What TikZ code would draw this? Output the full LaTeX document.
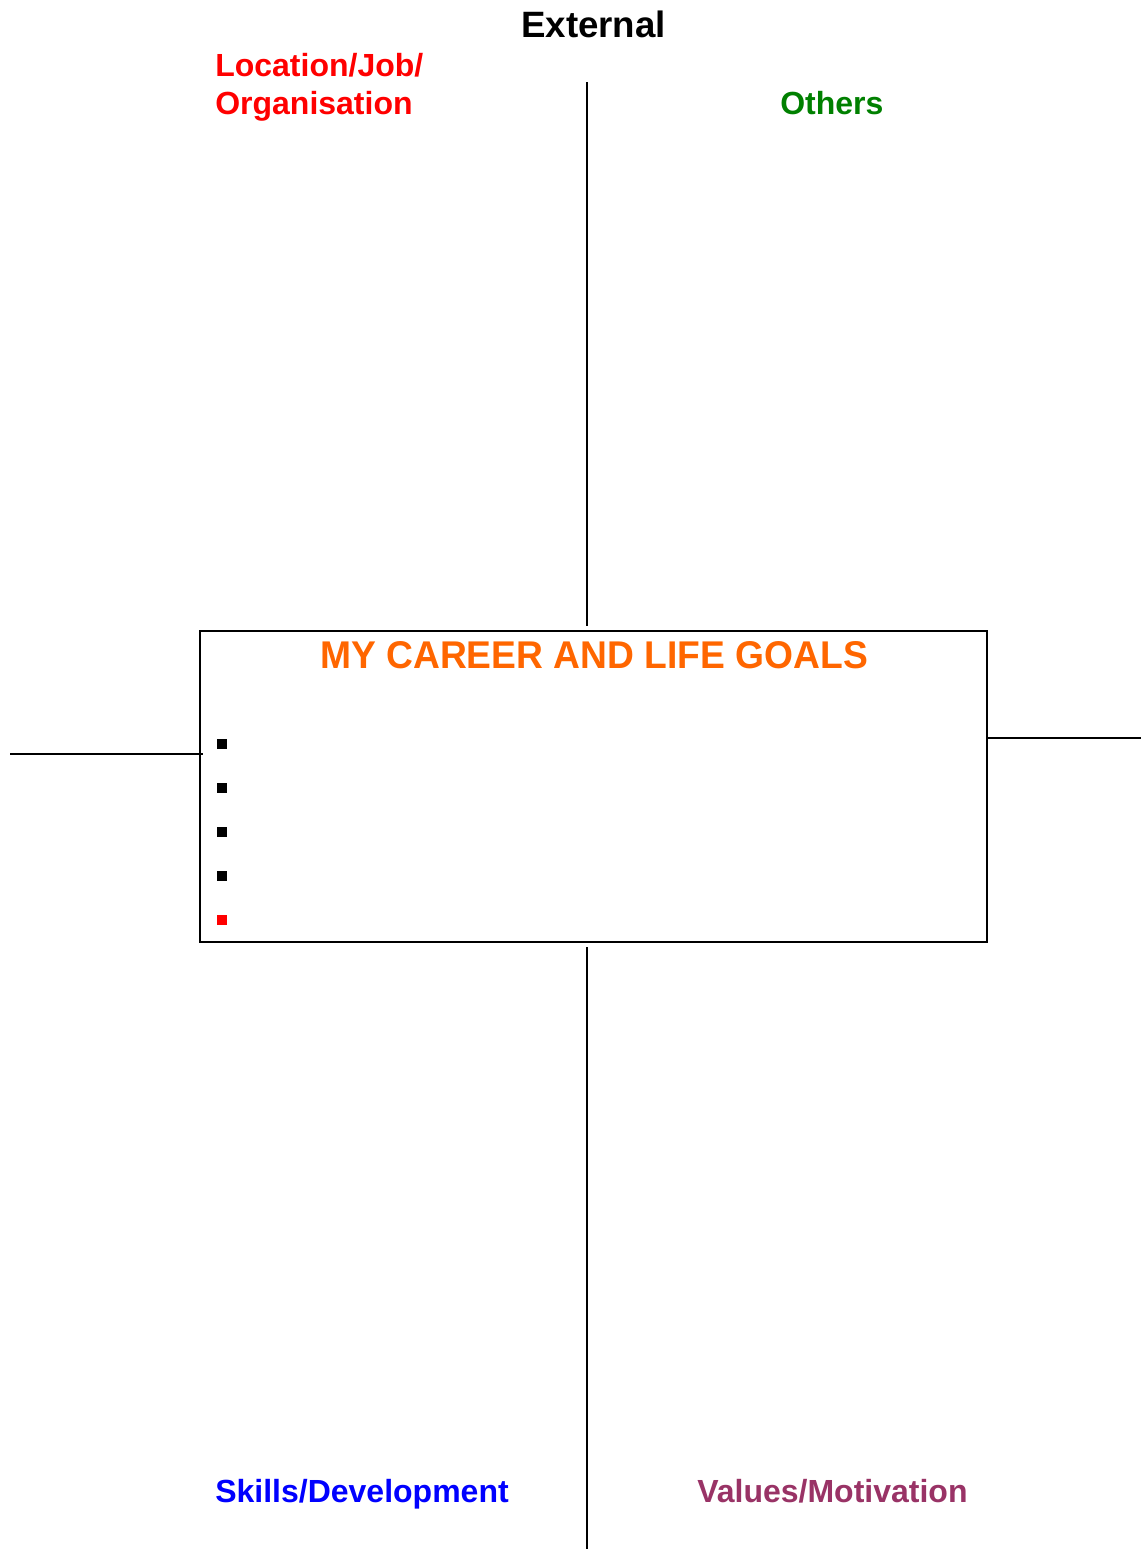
\documentclass[tikz,border=0pt]{standalone}
\usepackage{fontspec}
\setmainfont{Liberation Sans}
\definecolor{lblred}{HTML}{FF0000}
\definecolor{lblgreen}{HTML}{008000}
\definecolor{lblblue}{HTML}{0000FF}
\definecolor{lblplum}{HTML}{993366}
\definecolor{lblorange}{HTML}{FF6600}
\tikzset{
  lbl/.style={inner sep=0pt, anchor=base west, font=\fontsize{24}{28}\selectfont\bfseries, align=left},
  rule/.style={line width=1.4pt, draw=black},
  bul/.style={fill=black, minimum size=7.5pt, inner sep=0pt, anchor=center, draw=none}
}
\begin{document}
\begin{tikzpicture}[x=0.75pt,y=-0.75pt]
\useasboundingbox (0,0) rectangle (1141,1549);
% texts
\node[lbl, font=\fontsize{27.5}{32}\selectfont\bfseries] (ext) at (521,37) {External};
\node[lbl, text=lblred] (loc1) at (215,76) {Location/Job/};
\node[lbl, text=lblred] (loc2) at (215,114) {Organisation};
\node[lbl, text=lblgreen] (oth) at (780,114) {Others};
\node[lbl, text=lblblue] (skl) at (215,1502) {Skills/Development};
\node[lbl, text=lblplum] (val) at (697,1502) {Values/Motivation};
% central box
\node[draw, line width=1.5pt, minimum width=787*0.75pt, minimum height=311*0.75pt, inner sep=0pt, anchor=north west] (box) at (199,630) {};
\node[inner sep=0pt, anchor=base west, text=lblorange] (title) at (320,668)
  {\scalebox{0.962}[1]{\fontsize{29}{34}\selectfont\bfseries MY CAREER AND LIFE GOALS}};
% bullets
\node[bul] (b1) at (222,744) {};
\node[bul] (b2) at (222,788) {};
\node[bul] (b3) at (222,832) {};
\node[bul] (b4) at (222,876) {};
\node[bul, fill=lblred] (b5) at (222,920) {};
% connectors
\coordinate (vt1) at (587,82);
\coordinate (vt2) at (587,626);
\coordinate (vb1) at (587,947);
\coordinate (vb2) at (587,1549);
\coordinate (hl1) at (10,754);
\coordinate (hl2) at (203,754);
\coordinate (hr1) at (987,738);
\coordinate (hr2) at (1141,738);
\draw[rule] (vt1) -- (vt2);
\draw[rule] (vb1) -- (vb2);
\draw[rule, line width=1.2pt] (hl1) -- (hl2);
\draw[rule, line width=1.2pt] (hr1) -- (hr2);
\end{tikzpicture}
\end{document}
